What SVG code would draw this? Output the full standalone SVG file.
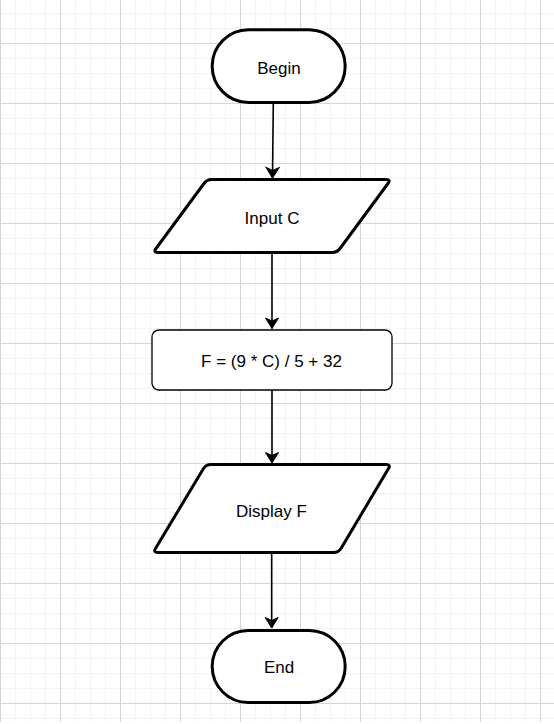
<svg xmlns="http://www.w3.org/2000/svg" width="554" height="724" viewBox="0 0 554 724">
  <style>
    .term { fill: #ffffff; stroke: #000000; stroke-width: 3; }
    .io { fill: #ffffff; stroke: #000000; stroke-width: 3; stroke-linejoin: round; }
    .proc { fill: #ffffff; stroke: #000000; stroke-width: 1.3; }
    .lbl { font-family: "Liberation Sans", Arial, sans-serif; font-size: 17px; fill: #000000; text-anchor: middle; }
    .edge { fill: none; stroke: #000000; stroke-width: 1.6; marker-end: url(#arrow); }
    .minor { stroke: #f3f3f3; stroke-width: 1; fill: none; }
    .major { stroke: #d5d5d5; stroke-width: 1; fill: none; }
  </style>
  <defs>
    <marker id="arrow" markerUnits="userSpaceOnUse" viewBox="-12 -8 14 16" refX="0" refY="0" markerWidth="14" markerHeight="16" orient="auto">
      <path d="M0,0 L-10.5,-6.5 L-7.5,0 L-10.5,6.5 Z" fill="#000000" stroke="#000000" stroke-width="1" stroke-linejoin="miter"/>
    </marker>
  </defs>
  <rect x="0" y="0" width="554" height="724" fill="#ffffff"/>
  <g id="grid">
    <path class="minor" d="M15.5 0V722M30.5 0V722M45.5 0V722M75.5 0V722M90.5 0V722M105.5 0V722M135.5 0V722M150.5 0V722M165.5 0V722M195.5 0V722M210.5 0V722M225.5 0V722M255.5 0V722M270.5 0V722M285.5 0V722M315.5 0V722M330.5 0V722M345.5 0V722M375.5 0V722M390.5 0V722M405.5 0V722M435.5 0V722M450.5 0V722M465.5 0V722M495.5 0V722M510.5 0V722M525.5 0V722
    M0 13.5H554M0 28.5H554M0 58.5H554M0 73.5H554M0 88.5H554M0 118.5H554M0 133.5H554M0 148.5H554M0 178.5H554M0 193.5H554M0 208.5H554M0 238.5H554M0 253.5H554M0 268.5H554M0 298.5H554M0 313.5H554M0 328.5H554M0 358.5H554M0 373.5H554M0 388.5H554M0 418.5H554M0 433.5H554M0 448.5H554M0 478.5H554M0 493.5H554M0 508.5H554M0 538.5H554M0 553.5H554M0 568.5H554M0 598.5H554M0 613.5H554M0 628.5H554M0 658.5H554M0 673.5H554M0 688.5H554M0 718.5H554"/>
    <path class="major" d="M0.5 0V722M60.5 0V722M120.5 0V722M180.5 0V722M240.5 0V722M300.5 0V722M360.5 0V722M420.5 0V722M480.5 0V722M540.5 0V722
    M0 43.5H554M0 103.5H554M0 163.5H554M0 223.5H554M0 283.5H554M0 343.5H554M0 403.5H554M0 463.5H554M0 523.5H554M0 583.5H554M0 643.5H554M0 703.5H554"/>
  </g>

  <g id="connectors">
    <path class="edge" d="M273.3 104 L272.5 178"/>
    <path class="edge" d="M272 254 L272 328.5"/>
    <path class="edge" d="M272 390 L272 463"/>
    <path class="edge" d="M271.7 554 L271.7 628"/>
  </g>

  <g id="begin">
    <rect class="term" x="212.2" y="29.8" width="133" height="72.7" rx="36.3" ry="36.3"/>
    <text class="lbl" x="279" y="74">Begin</text>
  </g>

  <g id="input-c">
    <path class="io" d="M211 179.5 L386 179.5 Q391 179.5 388 183.5 L340 248.5 Q337 252.5 332 252.5 L158 252.5 Q153 252.5 156 248.5 L204 183.5 Q207 179.5 211 179.5 Z"/>
    <text class="lbl" x="272" y="224">Input C</text>
  </g>

  <g id="compute">
    <rect class="proc" x="152" y="330" width="240" height="60" rx="7" ry="7"/>
    <text class="lbl" x="271.5" y="367.3">F = (9 * C) / 5 + 32</text>
  </g>

  <g id="display-f">
    <path class="io" d="M211 464.5 L386 464.5 Q391 464.5 388.5 468.5 L341 548.5 Q338.5 552.5 333.5 552.5 L158 552.5 Q153 552.5 155.5 548.5 L203.5 468.5 Q206 464.5 211 464.5 Z"/>
    <text class="lbl" x="271.5" y="517">Display F</text>
  </g>

  <g id="end">
    <rect class="term" x="212.2" y="630.5" width="133" height="72" rx="36" ry="36"/>
    <text class="lbl" x="279" y="673.3">End</text>
  </g>
</svg>
